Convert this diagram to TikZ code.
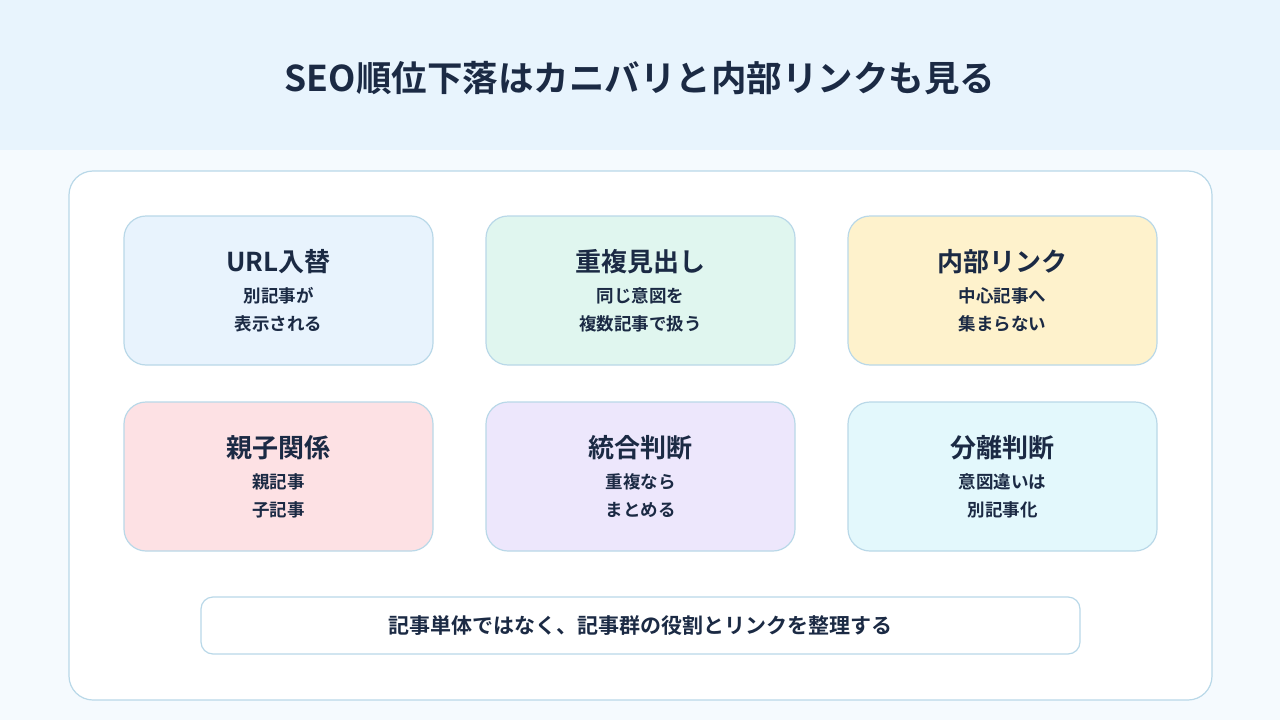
\documentclass[tikz,border=0pt]{standalone}
\usepackage{fontspec}
\setmainfont{Noto Sans CJK JP}[BoldFont={Noto Sans CJK JP Bold}]
\definecolor{ink}{HTML}{1B2A44}
\definecolor{bd}{HTML}{B9D8E8}
\definecolor{cblue}{HTML}{E8F3FD}
\definecolor{cgreen}{HTML}{E0F6EF}
\definecolor{cyellow}{HTML}{FEF2CC}
\definecolor{cpink}{HTML}{FDE1E4}
\definecolor{cpurple}{HTML}{EDE7FC}
\definecolor{ccyan}{HTML}{E3F8FC}
\tikzset{x=1pt,y=-1pt,
card/.style={draw=bd,line width=1.2pt,rounded corners=22pt,minimum width=309pt,minimum height=149pt,inner sep=0pt},
ttl/.style={text=ink,font=\bfseries\fontsize{26}{30}\selectfont},
sub/.style={text=ink,font=\bfseries\fontsize{17.5}{28}\selectfont,align=center}}
\begin{document}
\begin{tikzpicture}
\fill[color={rgb,255:red,245;green,250;blue,254}] (0,0) rectangle (1280,720);
\useasboundingbox (0,0) rectangle (1280,720);
\fill[color={rgb,255:red,232;green,244;blue,253}] (0,0) rectangle (1280,150);
\node[text=ink,font=\bfseries\fontsize{35.5}{40}\selectfont] (title) at (640,78) {SEO順位下落はカニバリと内部リンクも見る};
\draw[bd,fill=white,line width=1.2pt,rounded corners=24pt] (69,171) rectangle (1212,700);
\foreach \n/\x/\y/\c/\t/\a/\b in {
a/278.5/290.5/cblue/URL入替/別記事が/表示される,
b/640.5/290.5/cgreen/重複見出し/同じ意図を/複数記事で扱う,
c/1002.5/290.5/cyellow/内部リンク/中心記事へ/集まらない,
d/278.5/476.5/cpink/親子関係/親記事/子記事,
e/640.5/476.5/cpurple/統合判断/重複なら/まとめる,
f/1002.5/476.5/ccyan/分離判断/意図違いは/別記事化}{
\node[card,fill=\c] (\n) at (\x,\y) {};
\node[ttl] (\n t) at (\x,\y-29) {\t};
\node[sub] (\n s) at (\x,\y+19) {\a\\\b};
}
\node[draw=bd,fill=white,line width=1.2pt,rounded corners=12pt,minimum width=879pt,minimum height=57pt,text=ink,font=\bfseries\fontsize{21}{24}\selectfont] (foot) at (640.5,625.5) {記事単体ではなく、記事群の役割とリンクを整理する};
\end{tikzpicture}
\end{document}
